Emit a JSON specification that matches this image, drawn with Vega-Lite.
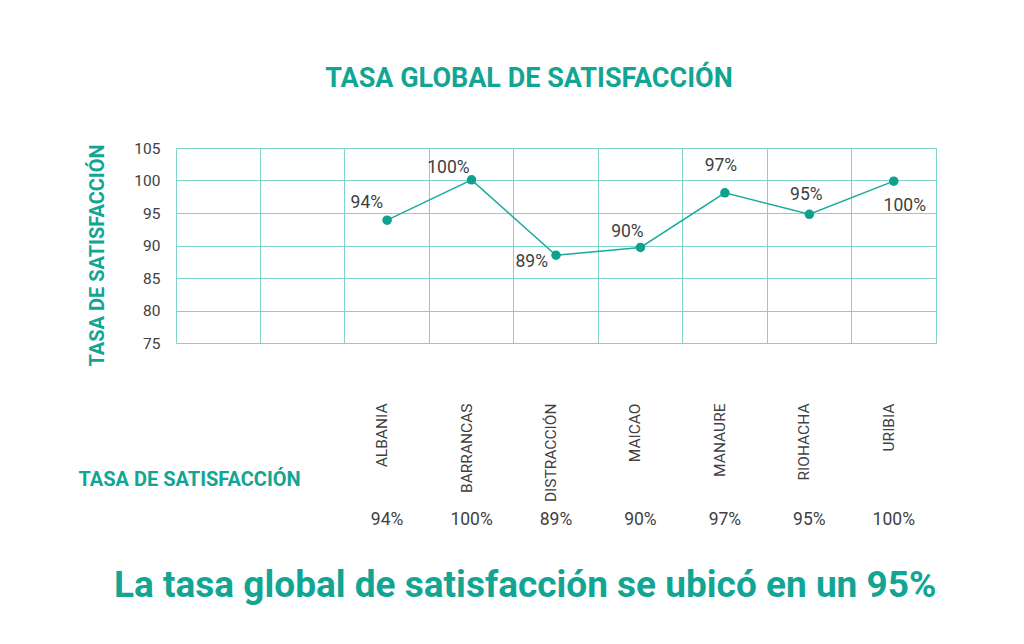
{
  "$schema": "https://vega.github.io/schema/vega-lite/v6.json",
  "background": "white",
  "padding": {"left": 77, "top": 64, "right": 5, "bottom": 5},
  "config": {
    "font": "Roboto",
    "view": {"stroke": "#7fd3c9", "strokeWidth": 1},
    "axis": {"gridColor": "#7fd3c9", "gridOpacity": 1, "gridWidth": 1}
  },
  "datasets": {
    "tasa": [
      {"municipio": "ALBANIA", "valor": 93.9, "etiqueta": "94%"},
      {"municipio": "BARRANCAS", "valor": 100.1, "etiqueta": "100%"},
      {"municipio": "DISTRACCIÓN", "valor": 88.5, "etiqueta": "89%"},
      {"municipio": "MAICAO", "valor": 89.7, "etiqueta": "90%"},
      {"municipio": "MANAURE", "valor": 98.1, "etiqueta": "97%"},
      {"municipio": "RIOHACHA", "valor": 94.8, "etiqueta": "95%"},
      {"municipio": "URIBIA", "valor": 99.9, "etiqueta": "100%"}
    ]
  },
  "spacing": 7,
  "vconcat": [
    {
      "width": 760,
      "height": 195,
      "title": {"text": "TASA GLOBAL DE SATISFACCIÓN", "fontSize": 27, "fontWeight": "bold", "color": "#12a594", "offset": 48, "dx": -27},
      "data": {"name": "tasa"},
      "encoding": {
        "x": {
          "field": "municipio", "type": "nominal", "sort": null,
          "scale": {"type": "band", "domain": [" ", "  ", "ALBANIA", "BARRANCAS", "DISTRACCIÓN", "MAICAO", "MANAURE", "RIOHACHA", "URIBIA"], "paddingInner": 0, "paddingOuter": 0},
          "axis": {
            "title": "TASA DE SATISFACCIÓN", "labelAngle": -90, "labelPadding": 60, "labelOffset": -5, "bandPosition": 0,
            "grid": true, "ticks": false, "domain": false, "labelFontSize": 15.5, "labelColor": "#404040",
            "titleFontSize": 20, "titleFontWeight": "bold", "titleColor": "#12a594", "titleX": -98, "titleY": 136,
            "titleAlign": "left", "titleBaseline": "middle", "titleAngle": 0
          }
        },
        "y": {
          "field": "valor", "type": "quantitative",
          "scale": {"domain": [75, 105], "nice": false, "zero": false},
          "axis": {
            "values": [75, 80, 85, 90, 95, 100, 105], "title": "TASA DE SATISFACCIÓN", "grid": true, "ticks": false, "domain": false,
            "labelFontSize": 15.5, "labelColor": "#404040", "labelPadding": 16,
            "titleFontSize": 20, "titleFontWeight": "bold", "titleColor": "#12a594", "titlePadding": 26, "titleY": 107
          }
        }
      },
      "layer": [
        {"mark": {"type": "line", "color": "#1aab9c", "strokeWidth": 1.5}},
        {"mark": {"type": "point", "filled": true, "size": 90, "color": "#0fa08f", "opacity": 1}},
        {
          "transform": [{"filter": {"field": "municipio", "equal": "ALBANIA"}}],
          "mark": {"type": "text", "align": "right", "baseline": "middle", "dx": -4, "dy": -17, "fontSize": 17.5, "color": "#404040"},
          "encoding": {"text": {"field": "etiqueta"}}
        },
        {
          "transform": [{"filter": {"field": "municipio", "equal": "BARRANCAS"}}],
          "mark": {"type": "text", "align": "right", "baseline": "middle", "dx": -2, "dy": -12, "fontSize": 17.5, "color": "#404040"},
          "encoding": {"text": {"field": "etiqueta"}}
        },
        {
          "transform": [{"filter": {"field": "municipio", "equal": "DISTRACCIÓN"}}],
          "mark": {"type": "text", "align": "right", "baseline": "middle", "dx": -8, "dy": 7, "fontSize": 17.5, "color": "#404040"},
          "encoding": {"text": {"field": "etiqueta"}}
        },
        {
          "transform": [{"filter": {"field": "municipio", "equal": "MAICAO"}}],
          "mark": {"type": "text", "align": "center", "baseline": "middle", "dx": -13, "dy": -15, "fontSize": 17.5, "color": "#404040"},
          "encoding": {"text": {"field": "etiqueta"}}
        },
        {
          "transform": [{"filter": {"field": "municipio", "equal": "MANAURE"}}],
          "mark": {"type": "text", "align": "center", "baseline": "middle", "dx": -4, "dy": -27, "fontSize": 17.5, "color": "#404040"},
          "encoding": {"text": {"field": "etiqueta"}}
        },
        {
          "transform": [{"filter": {"field": "municipio", "equal": "RIOHACHA"}}],
          "mark": {"type": "text", "align": "center", "baseline": "middle", "dx": -3, "dy": -19, "fontSize": 17.5, "color": "#404040"},
          "encoding": {"text": {"field": "etiqueta"}}
        },
        {
          "transform": [{"filter": {"field": "municipio", "equal": "URIBIA"}}],
          "mark": {"type": "text", "align": "center", "baseline": "middle", "dx": 11, "dy": 25, "fontSize": 17.5, "color": "#404040"},
          "encoding": {"text": {"field": "etiqueta"}}
        }
      ]
    },
    {
      "width": 760,
      "height": 20,
      "view": {"stroke": null},
      "title": {"text": "La tasa global de satisfacción se ubicó en un 95%", "orient": "bottom", "anchor": "start", "fontSize": 37, "fontWeight": "bold", "color": "#12a594", "offset": 38, "dx": -62},
      "data": {"name": "tasa"},
      "mark": {"type": "text", "fontSize": 17.5, "color": "#404040"},
      "encoding": {
        "x": {
          "field": "municipio", "type": "nominal", "sort": null,
          "scale": {"type": "band", "domain": [" ", "  ", "ALBANIA", "BARRANCAS", "DISTRACCIÓN", "MAICAO", "MANAURE", "RIOHACHA", "URIBIA"], "paddingInner": 0, "paddingOuter": 0},
          "axis": null
        },
        "text": {"field": "etiqueta"}
      }
    }
  ]
}
